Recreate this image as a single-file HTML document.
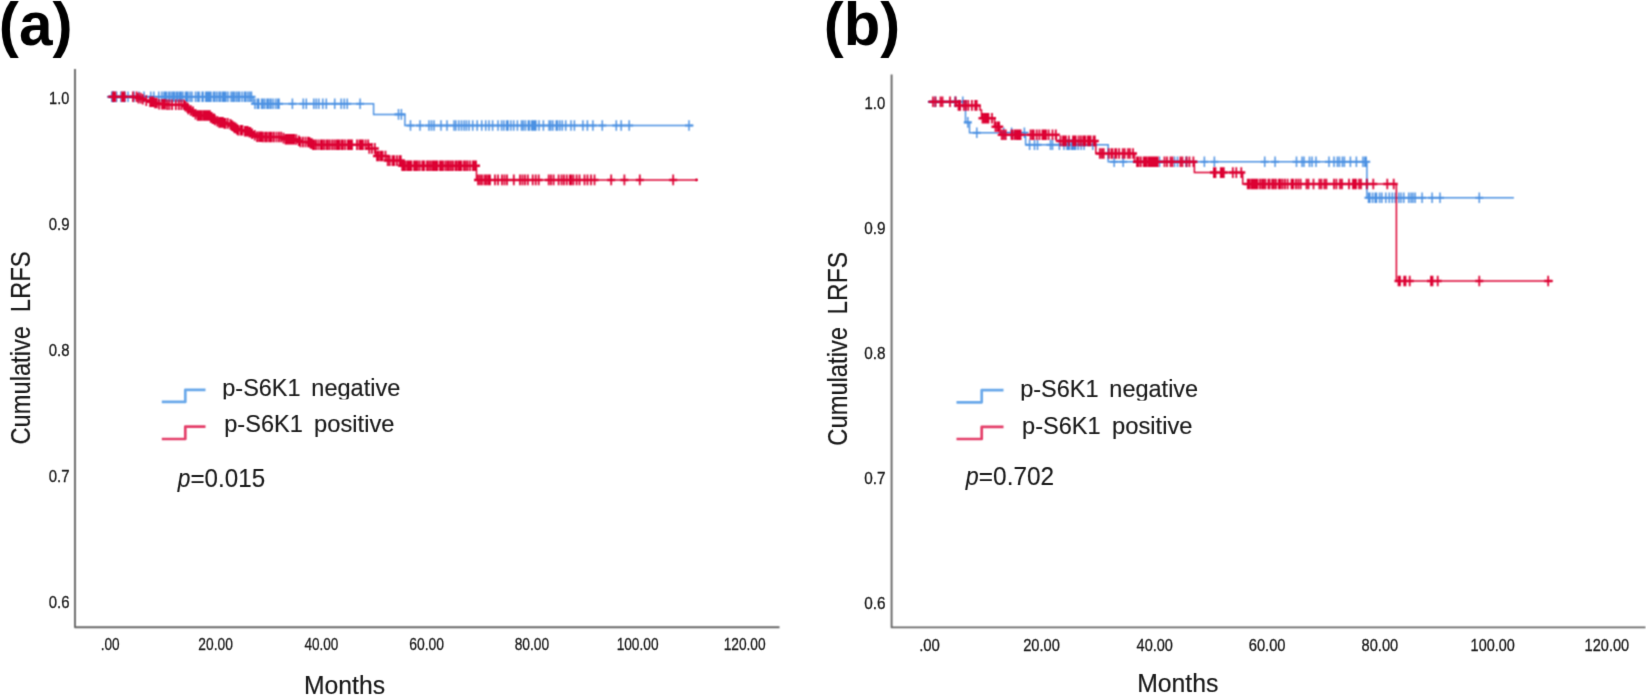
<!DOCTYPE html>
<html lang="en">
<head>
<meta charset="utf-8">
<title>Cumulative LRFS by p-S6K1 status</title>
<style>html,body{margin:0;padding:0;background:#fff;}body{width:1646px;height:695px;overflow:hidden;}svg{display:block;}</style>
</head>
<body>
<svg width="1646" height="695" viewBox="0 0 1646 695" font-family="'Liberation Sans', sans-serif">
<defs><filter id="soft" filterUnits="userSpaceOnUse" x="0" y="0" width="1646" height="695" color-interpolation-filters="sRGB"><feConvolveMatrix order="3" kernelMatrix="1 2 1 2 6 2 1 2 1" edgeMode="none" preserveAlpha="false"/></filter><filter id="blur1" filterUnits="userSpaceOnUse" x="0" y="0" width="1646" height="695" color-interpolation-filters="sRGB"><feConvolveMatrix order="3" kernelMatrix="1 2 1 2 4 2 1 2 1" edgeMode="none" preserveAlpha="false"/></filter><filter id="blur2" filterUnits="userSpaceOnUse" x="0" y="0" width="1646" height="695" color-interpolation-filters="sRGB"><feGaussianBlur stdDeviation="0.85"/></filter><filter id="soft2" filterUnits="userSpaceOnUse" x="0" y="0" width="1646" height="695" color-interpolation-filters="sRGB"><feConvolveMatrix order="3" kernelMatrix="0 1 0 1 7 1 0 1 0" edgeMode="none" preserveAlpha="false"/></filter></defs>
<rect width="1646" height="695" fill="#ffffff"/>
<g filter="url(#soft)">
<path d="M75 69V627.3H779.5" fill="none" stroke="#686868" stroke-width="1.9" stroke-linejoin="round"/>
<path d="M891.6 74.5V627.4H1645.5" fill="none" stroke="#686868" stroke-width="1.9" stroke-linejoin="round"/>
</g>
<g filter="url(#soft2)">
<text transform="translate(-1.13 45.20) scale(0.9983 1)" font-size="60.5" font-weight="bold" fill="#000">(a)</text>
<text transform="translate(823.80 44.60) scale(0.9885 1)" font-size="60.5" font-weight="bold" fill="#000">(b)</text>
<text transform="translate(49.09 104.30) scale(0.8534 1)" font-size="17" fill="#1a1a1a" stroke="#1a1a1a" stroke-width="0.3">1.0</text>
<text transform="translate(864.57 109.40) scale(0.8760 1)" font-size="17" fill="#1a1a1a" stroke="#1a1a1a" stroke-width="0.3">1.0</text>
<text transform="translate(48.73 230.15) scale(0.8790 1)" font-size="17" fill="#1a1a1a" stroke="#1a1a1a" stroke-width="0.3">0.9</text>
<text transform="translate(864.22 234.23) scale(0.9013 1)" font-size="17" fill="#1a1a1a" stroke="#1a1a1a" stroke-width="0.3">0.9</text>
<text transform="translate(48.73 356.00) scale(0.8790 1)" font-size="17" fill="#1a1a1a" stroke="#1a1a1a" stroke-width="0.3">0.8</text>
<text transform="translate(864.22 359.06) scale(0.9013 1)" font-size="17" fill="#1a1a1a" stroke="#1a1a1a" stroke-width="0.3">0.8</text>
<text transform="translate(48.73 481.85) scale(0.8790 1)" font-size="17" fill="#1a1a1a" stroke="#1a1a1a" stroke-width="0.3">0.7</text>
<text transform="translate(864.22 483.89) scale(0.9013 1)" font-size="17" fill="#1a1a1a" stroke="#1a1a1a" stroke-width="0.3">0.7</text>
<text transform="translate(48.73 607.70) scale(0.8790 1)" font-size="17" fill="#1a1a1a" stroke="#1a1a1a" stroke-width="0.3">0.6</text>
<text transform="translate(864.22 608.72) scale(0.9013 1)" font-size="17" fill="#1a1a1a" stroke="#1a1a1a" stroke-width="0.3">0.6</text>
<text transform="translate(100.74 649.60) scale(0.8093 1)" font-size="16.8" fill="#1a1a1a" stroke="#1a1a1a" stroke-width="0.3">.00</text>
<text transform="translate(198.35 649.60) scale(0.8204 1)" font-size="16.8" fill="#1a1a1a" stroke="#1a1a1a" stroke-width="0.3">20.00</text>
<text transform="translate(304.39 649.60) scale(0.8075 1)" font-size="16.8" fill="#1a1a1a" stroke="#1a1a1a" stroke-width="0.3">40.00</text>
<text transform="translate(409.25 649.60) scale(0.8277 1)" font-size="16.8" fill="#1a1a1a" stroke="#1a1a1a" stroke-width="0.3">60.00</text>
<text transform="translate(514.67 649.60) scale(0.8200 1)" font-size="16.8" fill="#1a1a1a" stroke="#1a1a1a" stroke-width="0.3">80.00</text>
<text transform="translate(616.64 649.60) scale(0.8154 1)" font-size="16.8" fill="#1a1a1a" stroke="#1a1a1a" stroke-width="0.3">100.00</text>
<text transform="translate(723.64 649.60) scale(0.8174 1)" font-size="16.8" fill="#1a1a1a" stroke="#1a1a1a" stroke-width="0.3">120.00</text>
<text transform="translate(919.13 650.50) scale(0.8926 1)" font-size="16.8" fill="#1a1a1a" stroke="#1a1a1a" stroke-width="0.3">.00</text>
<text transform="translate(1023.21 650.50) scale(0.8742 1)" font-size="16.8" fill="#1a1a1a" stroke="#1a1a1a" stroke-width="0.3">20.00</text>
<text transform="translate(1136.57 650.50) scale(0.8656 1)" font-size="16.8" fill="#1a1a1a" stroke="#1a1a1a" stroke-width="0.3">40.00</text>
<text transform="translate(1248.71 650.50) scale(0.8767 1)" font-size="16.8" fill="#1a1a1a" stroke="#1a1a1a" stroke-width="0.3">60.00</text>
<text transform="translate(1361.54 650.50) scale(0.8711 1)" font-size="16.8" fill="#1a1a1a" stroke="#1a1a1a" stroke-width="0.3">80.00</text>
<text transform="translate(1470.60 650.50) scale(0.8614 1)" font-size="16.8" fill="#1a1a1a" stroke="#1a1a1a" stroke-width="0.3">100.00</text>
<text transform="translate(1584.59 650.50) scale(0.8675 1)" font-size="16.8" fill="#1a1a1a" stroke="#1a1a1a" stroke-width="0.3">120.00</text>
<text transform="translate(303.97 693.55) scale(0.9661 1)" font-size="25.6" fill="#1a1a1a" stroke="#1a1a1a" stroke-width="0.2">Months</text>
<text transform="translate(1137.16 691.90) scale(0.9686 1)" font-size="25.6" fill="#1a1a1a" stroke="#1a1a1a" stroke-width="0.2">Months</text>
<text transform="translate(30.30 444.51) rotate(-90) scale(0.8708 1)" font-size="27.2" fill="#1a1a1a" stroke="#1a1a1a" stroke-width="0.2">Cumulative</text>
<text transform="translate(30.30 312.37) rotate(-90) scale(0.8784 1)" font-size="27.2" fill="#1a1a1a" stroke="#1a1a1a" stroke-width="0.2">LRFS</text>
<text transform="translate(846.60 445.71) rotate(-90) scale(0.8730 1)" font-size="27.2" fill="#1a1a1a" stroke="#1a1a1a" stroke-width="0.2">Cumulative</text>
<text transform="translate(846.60 314.51) rotate(-90) scale(0.8995 1)" font-size="27.2" fill="#1a1a1a" stroke="#1a1a1a" stroke-width="0.2">LRFS</text>
<text transform="translate(222.28 395.60) scale(0.9872 1)" font-size="23.8" fill="#1a1a1a" stroke="#1a1a1a" stroke-width="0.15">p-S6K1</text>
<text transform="translate(311.33 395.60) scale(0.9894 1)" font-size="23.8" fill="#1a1a1a" stroke="#1a1a1a" stroke-width="0.15">negative</text>
<text transform="translate(224.23 432.30) scale(0.9905 1)" font-size="23.8" fill="#1a1a1a" stroke="#1a1a1a" stroke-width="0.15">p-S6K1</text>
<text transform="translate(314.12 432.30) scale(0.9969 1)" font-size="23.8" fill="#1a1a1a" stroke="#1a1a1a" stroke-width="0.15">positive</text>
<text transform="translate(1020.23 396.80) scale(0.9879 1)" font-size="23.8" fill="#1a1a1a" stroke="#1a1a1a" stroke-width="0.15">p-S6K1</text>
<text transform="translate(1109.33 396.80) scale(0.9882 1)" font-size="23.8" fill="#1a1a1a" stroke="#1a1a1a" stroke-width="0.15">negative</text>
<text transform="translate(1022.03 433.80) scale(0.9905 1)" font-size="23.8" fill="#1a1a1a" stroke="#1a1a1a" stroke-width="0.15">p-S6K1</text>
<text transform="translate(1112.02 433.80) scale(0.9981 1)" font-size="23.8" fill="#1a1a1a" stroke="#1a1a1a" stroke-width="0.15">positive</text>
<text transform="translate(177.71 487.20) scale(0.8587 1)" font-size="26.5" font-style="italic" fill="#1a1a1a" stroke="#1a1a1a" stroke-width="0.15">p</text>
<text transform="translate(190.47 487.20) scale(0.9122 1)" font-size="26.5" fill="#1a1a1a" stroke="#1a1a1a" stroke-width="0.15">=0.015</text>
<text transform="translate(965.73 485.30) scale(0.8788 1)" font-size="26.5" font-style="italic" fill="#1a1a1a" stroke="#1a1a1a" stroke-width="0.15">p</text>
<text transform="translate(978.86 485.30) scale(0.9211 1)" font-size="26.5" fill="#1a1a1a" stroke="#1a1a1a" stroke-width="0.15">=0.702</text>
</g>
<rect x="220" y="399.4" width="182" height="4" fill="#fff"/>
<rect x="1018" y="400.6" width="182" height="4" fill="#fff"/>
<g filter="url(#soft)" fill="none" stroke-width="2.7" stroke-linejoin="round">
<path d="M161.8 401.9H185.3V389.8H205.5" stroke="#69a8ea"/>
<path d="M161.8 439H185.3V426.6H205.5" stroke="#e43d68"/>
<path d="M956.5 402.3H981.7V390.2H1003.5" stroke="#69a8ea"/>
<path d="M956.5 439H981.7V426.9H1003.5" stroke="#e43d68"/>
</g>
<g filter="url(#blur1)">
<path d="M107.5 96.8 L253.2 96.8 L253.2 103.7 L373.6 103.7 L373.6 114.4 L404.9 114.4 L404.9 125.5 L693.5 125.5" fill="none" stroke="#4a90e2" stroke-width="1.45" stroke-linejoin="miter"/>
<path d="M107.8 96.8h8.0M109.5 96.8h8.0M112.5 96.8h8.0M117.0 96.8h8.0M120.5 96.8h8.0M124.0 96.8h8.0M130.0 96.8h8.0M135.0 96.8h8.0M140.0 96.8h8.0M146.8 96.8h8.0M149.8 96.8h8.0M154.8 96.8h8.0M157.8 96.8h8.0M160.0 96.8h8.0M161.5 96.8h8.0M162.7 96.8h8.0M164.9 96.8h8.0M165.9 96.8h8.0M167.9 96.8h8.0M169.5 96.8h8.0M170.5 96.8h8.0M172.4 96.8h8.0M173.3 96.8h8.0M175.1 96.8h8.0M176.1 96.8h8.0M177.2 96.8h8.0M178.9 96.8h8.0M181.5 96.8h8.0M182.6 96.8h8.0M183.9 96.8h8.0M186.1 96.8h8.0M188.0 96.8h8.0M191.5 96.8h8.0M193.6 96.8h8.0M195.2 96.8h8.0M198.1 96.8h8.0M199.1 96.8h8.0M201.7 96.8h8.0M203.2 96.8h8.0M204.4 96.8h8.0M205.5 96.8h8.0M207.0 96.8h8.0M209.5 96.8h8.0M210.8 96.8h8.0M212.8 96.8h8.0M215.0 96.8h8.0M216.6 96.8h8.0M218.6 96.8h8.0M219.6 96.8h8.0M220.6 96.8h8.0M221.9 96.8h8.0M224.0 96.8h8.0M227.0 96.8h8.0M228.7 96.8h8.0M230.3 96.8h8.0M232.3 96.8h8.0M234.1 96.8h8.0M235.6 96.8h8.0M238.1 96.8h8.0M240.5 96.8h8.0M241.8 96.8h8.0M243.9 96.8h8.0M245.8 96.8h8.0M247.5 96.8h8.0M251.0 103.7h8.0M253.4 103.7h8.0M254.8 103.7h8.0M257.7 103.7h8.0M258.8 103.7h8.0M260.6 103.7h8.0M263.0 103.7h8.0M264.2 103.7h8.0M266.1 103.7h8.0M267.0 103.7h8.0M269.2 103.7h8.0M271.7 103.7h8.0M273.8 103.7h8.0M275.0 103.7h8.0M288.4 103.7h8.0M299.3 103.7h8.0M302.3 103.7h8.0M309.8 103.7h8.0M312.3 103.7h8.0M314.8 103.7h8.0M318.8 103.7h8.0M322.3 103.7h8.0M330.7 103.7h8.0M337.2 103.7h8.0M340.2 103.7h8.0M343.2 103.7h8.0M356.1 103.7h8.0M394.5 114.4h8.0M397.4 114.4h8.0M406.5 125.5h8.0M416.0 125.5h8.0M425.0 125.5h8.0M427.5 125.5h8.0M430.0 125.5h8.0M437.0 125.5h8.0M443.0 125.5h8.0M450.0 125.5h8.0M451.9 125.5h8.0M454.8 125.5h8.0M457.5 125.5h8.0M460.1 125.5h8.0M462.4 125.5h8.0M465.0 125.5h8.0M468.7 125.5h8.0M473.2 125.5h8.0M477.7 125.5h8.0M481.7 125.5h8.0M485.0 125.5h8.0M488.6 125.5h8.0M494.0 125.5h8.0M497.6 125.5h8.0M499.9 125.5h8.0M502.7 125.5h8.0M504.0 125.5h8.0M506.9 125.5h8.0M509.7 125.5h8.0M513.4 125.5h8.0M517.5 125.5h8.0M519.3 125.5h8.0M521.4 125.5h8.0M524.3 125.5h8.0M525.4 125.5h8.0M527.7 125.5h8.0M529.2 125.5h8.0M530.6 125.5h8.0M531.9 125.5h8.0M535.0 125.5h8.0M539.4 125.5h8.0M545.0 125.5h8.0M546.7 125.5h8.0M548.8 125.5h8.0M552.2 125.5h8.0M553.5 125.5h8.0M555.8 125.5h8.0M558.3 125.5h8.0M561.7 125.5h8.0M567.0 125.5h8.0M570.4 125.5h8.0M578.9 125.5h8.0M583.4 125.5h8.0M588.9 125.5h8.0M598.3 125.5h8.0M612.3 125.5h8.0M617.2 125.5h8.0M625.2 125.5h8.0M685.0 125.5h8.0" fill="none" stroke="#4a90e2" stroke-width="2.1"/>
<path d="M111.8 91.5v10.6M113.5 91.5v10.6M116.5 91.5v10.6M121.0 91.5v10.6M124.5 91.5v10.6M128.0 91.5v10.6M134.0 91.5v10.6M139.0 91.5v10.6M144.0 91.5v10.6M150.8 91.5v10.6M153.8 91.5v10.6M158.8 91.5v10.6M161.8 91.5v10.6M164.0 91.5v10.6M165.5 91.5v10.6M166.7 91.5v10.6M168.9 91.5v10.6M169.9 91.5v10.6M171.9 91.5v10.6M173.5 91.5v10.6M174.5 91.5v10.6M176.4 91.5v10.6M177.3 91.5v10.6M179.1 91.5v10.6M180.1 91.5v10.6M181.2 91.5v10.6M182.9 91.5v10.6M185.5 91.5v10.6M186.6 91.5v10.6M187.9 91.5v10.6M190.1 91.5v10.6M192.0 91.5v10.6M195.5 91.5v10.6M197.6 91.5v10.6M199.2 91.5v10.6M202.1 91.5v10.6M203.1 91.5v10.6M205.7 91.5v10.6M207.2 91.5v10.6M208.4 91.5v10.6M209.5 91.5v10.6M211.0 91.5v10.6M213.5 91.5v10.6M214.8 91.5v10.6M216.8 91.5v10.6M219.0 91.5v10.6M220.6 91.5v10.6M222.6 91.5v10.6M223.6 91.5v10.6M224.6 91.5v10.6M225.9 91.5v10.6M228.0 91.5v10.6M231.0 91.5v10.6M232.7 91.5v10.6M234.3 91.5v10.6M236.3 91.5v10.6M238.1 91.5v10.6M239.6 91.5v10.6M242.1 91.5v10.6M244.5 91.5v10.6M245.8 91.5v10.6M247.9 91.5v10.6M249.8 91.5v10.6M251.5 91.5v10.6M255.0 98.4v10.6M257.4 98.4v10.6M258.8 98.4v10.6M261.7 98.4v10.6M262.8 98.4v10.6M264.6 98.4v10.6M267.0 98.4v10.6M268.2 98.4v10.6M270.1 98.4v10.6M271.0 98.4v10.6M273.2 98.4v10.6M275.7 98.4v10.6M277.8 98.4v10.6M279.0 98.4v10.6M292.4 98.4v10.6M303.3 98.4v10.6M306.3 98.4v10.6M313.8 98.4v10.6M316.3 98.4v10.6M318.8 98.4v10.6M322.8 98.4v10.6M326.3 98.4v10.6M334.7 98.4v10.6M341.2 98.4v10.6M344.2 98.4v10.6M347.2 98.4v10.6M360.1 98.4v10.6M398.5 109.1v10.6M401.4 109.1v10.6M410.5 120.2v10.6M420.0 120.2v10.6M429.0 120.2v10.6M431.5 120.2v10.6M434.0 120.2v10.6M441.0 120.2v10.6M447.0 120.2v10.6M454.0 120.2v10.6M455.9 120.2v10.6M458.8 120.2v10.6M461.5 120.2v10.6M464.1 120.2v10.6M466.4 120.2v10.6M469.0 120.2v10.6M472.7 120.2v10.6M477.2 120.2v10.6M481.7 120.2v10.6M485.7 120.2v10.6M489.0 120.2v10.6M492.6 120.2v10.6M498.0 120.2v10.6M501.6 120.2v10.6M503.9 120.2v10.6M506.7 120.2v10.6M508.0 120.2v10.6M510.9 120.2v10.6M513.7 120.2v10.6M517.4 120.2v10.6M521.5 120.2v10.6M523.3 120.2v10.6M525.4 120.2v10.6M528.3 120.2v10.6M529.4 120.2v10.6M531.7 120.2v10.6M533.2 120.2v10.6M534.6 120.2v10.6M535.9 120.2v10.6M539.0 120.2v10.6M543.4 120.2v10.6M549.0 120.2v10.6M550.7 120.2v10.6M552.8 120.2v10.6M556.2 120.2v10.6M557.5 120.2v10.6M559.8 120.2v10.6M562.3 120.2v10.6M565.7 120.2v10.6M571.0 120.2v10.6M574.4 120.2v10.6M582.9 120.2v10.6M587.4 120.2v10.6M592.9 120.2v10.6M602.3 120.2v10.6M616.3 120.2v10.6M621.2 120.2v10.6M629.2 120.2v10.6M689.0 120.2v10.6" fill="none" stroke="#4a90e2" stroke-width="1.45"/>
</g>
<g filter="url(#blur1)">
<path d="M107.5 96.8 L133.0 96.8 L137.3 96.8 L137.3 98.1 L141.7 98.1 L141.7 99.3 L146.0 99.3 L146.0 100.6 L150.0 100.6 L150.0 101.8 L154.0 101.8 L154.0 103.0 L158.0 103.0 L158.0 104.2 L166.0 104.2 L166.0 104.8 L183.0 104.8 L184.7 104.8 L184.7 106.3 L186.3 106.3 L186.3 107.7 L188.0 107.7 L188.0 109.2 L189.8 109.2 L189.8 110.5 L191.6 110.5 L191.6 111.7 L193.4 111.7 L193.4 113.0 L195.2 113.0 L195.2 114.2 L197.0 114.2 L197.0 115.5 L210.0 115.5 L210.0 117.4 L212.2 117.4 L212.2 118.7 L214.5 118.7 L214.5 119.9 L216.8 119.9 L216.8 121.2 L219.0 121.2 L219.0 122.4 L224.0 122.4 L224.0 123.4 L229.0 123.4 L229.0 124.4 L230.8 124.4 L230.8 125.6 L232.6 125.6 L232.6 126.8 L234.4 126.8 L234.4 127.9 L236.2 127.9 L236.2 129.1 L238.0 129.1 L238.0 130.3 L243.5 130.3 L243.5 131.3 L249.0 131.3 L249.0 132.3 L251.7 132.3 L251.7 133.8 L254.3 133.8 L254.3 135.3 L257.0 135.3 L257.0 136.8 L262.0 136.8 L262.0 137.0 L279.0 137.0 L282.0 137.0 L282.0 138.2 L285.0 138.2 L285.0 139.3 L295.0 139.3 L295.0 139.5 L297.0 139.5 L297.0 140.8 L299.0 140.8 L299.0 142.0 L309.0 142.0 L309.0 142.2 L310.5 142.2 L310.5 143.5 L312.0 143.5 L312.0 144.8 L368.5 144.8 L368.5 148.4 L375.5 148.4 L375.5 156.0 L387.5 156.0 L387.5 160.6 L401.2 160.6 L401.2 165.8 L476.5 165.8 L476.5 179.9 L697.0 179.9" fill="none" stroke="#dc0032" stroke-width="1.5" stroke-linejoin="miter"/>
<path d="M108.8 96.8h8.0M110.2 96.8h8.0M111.4 96.8h8.0M118.0 96.8h8.0M119.4 96.8h8.0M120.6 96.8h8.0M129.0 96.8h8.0M132.5 96.8h8.0M134.4 98.1h8.0M136.7 98.1h8.0M138.8 99.3h8.0M142.3 100.6h8.0M146.1 101.8h8.0M147.6 101.8h8.0M149.2 101.8h8.0M151.0 103.0h8.0M152.8 103.0h8.0M155.2 104.2h8.0M158.0 104.2h8.0M159.8 104.2h8.0M161.0 104.2h8.0M163.2 104.8h8.0M165.4 104.8h8.0M168.1 104.8h8.0M171.8 104.8h8.0M174.8 104.8h8.0M177.4 104.8h8.0M180.0 104.8h8.0M181.5 106.3h8.0M183.5 107.7h8.0M184.4 109.2h8.0M186.8 110.5h8.0M189.1 111.7h8.0M191.5 114.2h8.0M193.7 115.5h8.0M195.2 115.5h8.0M196.7 115.5h8.0M197.7 115.5h8.0M199.6 115.5h8.0M200.5 115.5h8.0M201.4 115.5h8.0M202.6 115.5h8.0M203.6 115.5h8.0M205.0 115.5h8.0M205.9 115.5h8.0M206.7 117.4h8.0M207.7 117.4h8.0M208.7 118.7h8.0M210.1 118.7h8.0M210.9 119.9h8.0M213.3 121.2h8.0M215.2 122.4h8.0M216.3 122.4h8.0M217.5 122.4h8.0M218.9 122.4h8.0M220.4 123.4h8.0M221.4 123.4h8.0M223.7 123.4h8.0M226.4 124.4h8.0M228.0 125.6h8.0M229.7 126.8h8.0M230.6 127.9h8.0M231.5 127.9h8.0M232.9 129.1h8.0M234.2 130.3h8.0M236.5 130.3h8.0M237.6 130.3h8.0M238.4 130.3h8.0M240.9 131.3h8.0M242.7 131.3h8.0M243.7 131.3h8.0M245.5 132.3h8.0M246.3 132.3h8.0M248.1 133.8h8.0M250.7 135.3h8.0M253.1 136.8h8.0M255.1 136.8h8.0M256.4 136.8h8.0M257.8 136.8h8.0M258.9 137.0h8.0M261.1 137.0h8.0M262.9 137.0h8.0M265.1 137.0h8.0M266.5 137.0h8.0M267.7 137.0h8.0M269.9 137.0h8.0M272.5 137.0h8.0M274.9 137.0h8.0M277.2 137.0h8.0M279.5 138.2h8.0M281.6 139.3h8.0M282.8 139.3h8.0M284.5 139.3h8.0M286.0 139.3h8.0M286.8 139.3h8.0M287.6 139.3h8.0M288.9 139.3h8.0M290.1 139.3h8.0M292.2 139.5h8.0M294.8 140.8h8.0M296.4 142.0h8.0M298.9 142.0h8.0M301.5 142.0h8.0M304.0 142.0h8.0M305.5 142.2h8.0M306.7 143.5h8.0M307.9 143.5h8.0M309.0 144.8h8.0M310.1 144.8h8.0M312.1 144.8h8.0M314.5 144.8h8.0M316.9 144.8h8.0M318.5 144.8h8.0M320.5 144.8h8.0M322.8 144.8h8.0M323.7 144.8h8.0M325.7 144.8h8.0M328.2 144.8h8.0M330.4 144.8h8.0M332.5 144.8h8.0M334.2 144.8h8.0M335.3 144.8h8.0M337.5 144.8h8.0M338.9 144.8h8.0M341.2 144.8h8.0M343.8 144.8h8.0M345.3 144.8h8.0M346.8 144.8h8.0M348.0 144.8h8.0M353.0 144.8h8.0M355.4 144.8h8.0M356.6 144.8h8.0M357.7 144.8h8.0M358.9 144.8h8.0M361.6 144.8h8.0M364.2 144.8h8.0M365.3 148.4h8.0M367.9 148.4h8.0M370.8 148.4h8.0M373.0 156.0h8.0M374.6 156.0h8.0M376.6 156.0h8.0M377.8 156.0h8.0M378.6 156.0h8.0M381.5 156.0h8.0M383.7 160.6h8.0M385.7 160.6h8.0M388.5 160.6h8.0M390.3 160.6h8.0M392.9 160.6h8.0M395.5 160.6h8.0M396.8 160.6h8.0M398.2 165.8h8.0M399.7 165.8h8.0M401.0 165.8h8.0M403.1 165.8h8.0M404.5 165.8h8.0M406.2 165.8h8.0M407.4 165.8h8.0M410.1 165.8h8.0M411.7 165.8h8.0M413.5 165.8h8.0M415.6 165.8h8.0M418.3 165.8h8.0M420.1 165.8h8.0M422.8 165.8h8.0M424.7 165.8h8.0M426.7 165.8h8.0M428.7 165.8h8.0M429.6 165.8h8.0M431.3 165.8h8.0M432.6 165.8h8.0M433.4 165.8h8.0M436.0 165.8h8.0M437.2 165.8h8.0M439.0 165.8h8.0M441.4 165.8h8.0M443.4 165.8h8.0M444.9 165.8h8.0M446.9 165.8h8.0M448.9 165.8h8.0M451.4 165.8h8.0M452.5 165.8h8.0M454.5 165.8h8.0M455.9 165.8h8.0M457.3 165.8h8.0M459.8 165.8h8.0M461.7 165.8h8.0M463.7 165.8h8.0M466.2 165.8h8.0M468.9 165.8h8.0M470.7 165.8h8.0M472.0 165.8h8.0M474.0 179.9h8.0M476.0 179.9h8.0M478.0 179.9h8.0M480.5 179.9h8.0M482.4 179.9h8.0M484.4 179.9h8.0M486.0 179.9h8.0M491.0 179.9h8.0M494.0 179.9h8.0M498.0 179.9h8.0M500.5 179.9h8.0M503.0 179.9h8.0M509.8 179.9h8.0M516.0 179.9h8.0M518.5 179.9h8.0M521.0 179.9h8.0M523.8 179.9h8.0M528.7 179.9h8.0M531.7 179.9h8.0M534.7 179.9h8.0M544.7 179.9h8.0M547.0 179.9h8.0M549.6 179.9h8.0M554.6 179.9h8.0M557.6 179.9h8.0M560.0 179.9h8.0M562.8 179.9h8.0M565.8 179.9h8.0M567.3 179.9h8.0M569.4 179.9h8.0M572.6 179.9h8.0M575.5 179.9h8.0M580.5 179.9h8.0M583.5 179.9h8.0M587.0 179.9h8.0M590.5 179.9h8.0M607.2 179.9h8.0M620.4 179.9h8.0M635.8 179.9h8.0M669.2 179.9h8.0" fill="none" stroke="#dc0032" stroke-width="2.5"/>
<path d="M112.8 91.5v10.6M114.2 91.5v10.6M115.4 91.5v10.6M122.0 91.5v10.6M123.4 91.5v10.6M124.6 91.5v10.6M133.0 91.5v10.6M136.5 91.5v10.6M138.4 92.8v10.6M140.7 92.8v10.6M142.8 94.0v10.6M146.3 95.3v10.6M150.1 96.5v10.6M151.6 96.5v10.6M153.2 96.5v10.6M155.0 97.7v10.6M156.8 97.7v10.6M159.2 98.9v10.6M162.0 98.9v10.6M163.8 98.9v10.6M165.0 98.9v10.6M167.2 99.5v10.6M169.4 99.5v10.6M172.1 99.5v10.6M175.8 99.5v10.6M178.8 99.5v10.6M181.4 99.5v10.6M184.0 99.5v10.6M185.5 101.0v10.6M187.5 102.4v10.6M188.4 103.9v10.6M190.8 105.2v10.6M193.1 106.4v10.6M195.5 108.9v10.6M197.7 110.2v10.6M199.2 110.2v10.6M200.7 110.2v10.6M201.7 110.2v10.6M203.6 110.2v10.6M204.5 110.2v10.6M205.4 110.2v10.6M206.6 110.2v10.6M207.6 110.2v10.6M209.0 110.2v10.6M209.9 110.2v10.6M210.7 112.1v10.6M211.7 112.1v10.6M212.7 113.4v10.6M214.1 113.4v10.6M214.9 114.6v10.6M217.3 115.9v10.6M219.2 117.1v10.6M220.3 117.1v10.6M221.5 117.1v10.6M222.9 117.1v10.6M224.4 118.1v10.6M225.4 118.1v10.6M227.7 118.1v10.6M230.4 119.1v10.6M232.0 120.3v10.6M233.7 121.5v10.6M234.6 122.6v10.6M235.5 122.6v10.6M236.9 123.8v10.6M238.2 125.0v10.6M240.5 125.0v10.6M241.6 125.0v10.6M242.4 125.0v10.6M244.9 126.0v10.6M246.7 126.0v10.6M247.7 126.0v10.6M249.5 127.0v10.6M250.3 127.0v10.6M252.1 128.5v10.6M254.7 130.0v10.6M257.1 131.5v10.6M259.1 131.5v10.6M260.4 131.5v10.6M261.8 131.5v10.6M262.9 131.7v10.6M265.1 131.7v10.6M266.9 131.7v10.6M269.1 131.7v10.6M270.5 131.7v10.6M271.7 131.7v10.6M273.9 131.7v10.6M276.5 131.7v10.6M278.9 131.7v10.6M281.2 131.7v10.6M283.5 132.8v10.6M285.6 134.0v10.6M286.8 134.0v10.6M288.5 134.0v10.6M290.0 134.0v10.6M290.8 134.0v10.6M291.6 134.0v10.6M292.9 134.0v10.6M294.1 134.0v10.6M296.2 134.2v10.6M298.8 135.4v10.6M300.4 136.7v10.6M302.9 136.7v10.6M305.5 136.7v10.6M308.0 136.7v10.6M309.5 136.9v10.6M310.7 138.2v10.6M311.9 138.2v10.6M313.0 139.5v10.6M314.1 139.5v10.6M316.1 139.5v10.6M318.5 139.5v10.6M320.9 139.5v10.6M322.5 139.5v10.6M324.5 139.5v10.6M326.8 139.5v10.6M327.7 139.5v10.6M329.7 139.5v10.6M332.2 139.5v10.6M334.4 139.5v10.6M336.5 139.5v10.6M338.2 139.5v10.6M339.3 139.5v10.6M341.5 139.5v10.6M342.9 139.5v10.6M345.2 139.5v10.6M347.8 139.5v10.6M349.3 139.5v10.6M350.8 139.5v10.6M352.0 139.5v10.6M357.0 139.5v10.6M359.4 139.5v10.6M360.6 139.5v10.6M361.7 139.5v10.6M362.9 139.5v10.6M365.6 139.5v10.6M368.2 139.5v10.6M369.3 143.1v10.6M371.9 143.1v10.6M374.8 143.1v10.6M377.0 150.7v10.6M378.6 150.7v10.6M380.6 150.7v10.6M381.8 150.7v10.6M382.6 150.7v10.6M385.5 150.7v10.6M387.7 155.3v10.6M389.7 155.3v10.6M392.5 155.3v10.6M394.3 155.3v10.6M396.9 155.3v10.6M399.5 155.3v10.6M400.8 155.3v10.6M402.2 160.5v10.6M403.7 160.5v10.6M405.0 160.5v10.6M407.1 160.5v10.6M408.5 160.5v10.6M410.2 160.5v10.6M411.4 160.5v10.6M414.1 160.5v10.6M415.7 160.5v10.6M417.5 160.5v10.6M419.6 160.5v10.6M422.3 160.5v10.6M424.1 160.5v10.6M426.8 160.5v10.6M428.7 160.5v10.6M430.7 160.5v10.6M432.7 160.5v10.6M433.6 160.5v10.6M435.3 160.5v10.6M436.6 160.5v10.6M437.4 160.5v10.6M440.0 160.5v10.6M441.2 160.5v10.6M443.0 160.5v10.6M445.4 160.5v10.6M447.4 160.5v10.6M448.9 160.5v10.6M450.9 160.5v10.6M452.9 160.5v10.6M455.4 160.5v10.6M456.5 160.5v10.6M458.5 160.5v10.6M459.9 160.5v10.6M461.3 160.5v10.6M463.8 160.5v10.6M465.7 160.5v10.6M467.7 160.5v10.6M470.2 160.5v10.6M472.9 160.5v10.6M474.7 160.5v10.6M476.0 160.5v10.6M478.0 174.6v10.6M480.0 174.6v10.6M482.0 174.6v10.6M484.5 174.6v10.6M486.4 174.6v10.6M488.4 174.6v10.6M490.0 174.6v10.6M495.0 174.6v10.6M498.0 174.6v10.6M502.0 174.6v10.6M504.5 174.6v10.6M507.0 174.6v10.6M513.8 174.6v10.6M520.0 174.6v10.6M522.5 174.6v10.6M525.0 174.6v10.6M527.8 174.6v10.6M532.7 174.6v10.6M535.7 174.6v10.6M538.7 174.6v10.6M548.7 174.6v10.6M551.0 174.6v10.6M553.6 174.6v10.6M558.6 174.6v10.6M561.6 174.6v10.6M564.0 174.6v10.6M566.8 174.6v10.6M569.8 174.6v10.6M571.3 174.6v10.6M573.4 174.6v10.6M576.6 174.6v10.6M579.5 174.6v10.6M584.5 174.6v10.6M587.5 174.6v10.6M591.0 174.6v10.6M594.5 174.6v10.6M611.2 174.6v10.6M624.4 174.6v10.6M639.8 174.6v10.6M673.2 174.6v10.6" fill="none" stroke="#dc0032" stroke-width="1.75"/>
</g>
<g filter="url(#blur1)">
<path d="M928.0 101.8 L965.5 101.8 L965.5 122.4 L969.5 122.4 L969.5 132.8 L1025.6 132.8 L1025.6 144.7 L1108.2 144.7 L1108.2 161.8 L1366.9 161.8 L1366.9 197.7 L1513.9 197.7" fill="none" stroke="#4a90e2" stroke-width="1.45" stroke-linejoin="miter"/>
<path d="M930.9 101.8h8.0M951.4 101.8h8.0M958.8 101.8h8.0M963.8 122.4h8.0M972.8 132.8h8.0M999.7 132.8h8.0M1007.6 132.8h8.0M1020.4 132.8h8.0M1025.6 144.7h8.0M1030.5 144.7h8.0M1033.5 144.7h8.0M1046.5 144.7h8.0M1048.5 144.7h8.0M1055.4 144.7h8.0M1060.0 144.7h8.0M1063.0 144.7h8.0M1064.3 144.7h8.0M1065.6 144.7h8.0M1067.7 144.7h8.0M1068.9 144.7h8.0M1070.4 144.7h8.0M1071.6 144.7h8.0M1074.2 144.7h8.0M1077.1 144.7h8.0M1080.0 144.7h8.0M1088.8 144.7h8.0M1110.2 161.8h8.0M1119.2 161.8h8.0M1155.5 161.8h8.0M1170.5 161.8h8.0M1173.5 161.8h8.0M1182.4 161.8h8.0M1200.4 161.8h8.0M1210.4 161.8h8.0M1260.7 161.8h8.0M1271.1 161.8h8.0M1292.5 161.8h8.0M1298.0 161.8h8.0M1300.0 161.8h8.0M1305.5 161.8h8.0M1308.0 161.8h8.0M1312.0 161.8h8.0M1325.0 161.8h8.0M1330.0 161.8h8.0M1333.4 161.8h8.0M1335.4 161.8h8.0M1338.4 161.8h8.0M1340.4 161.8h8.0M1346.4 161.8h8.0M1352.4 161.8h8.0M1358.9 161.8h8.0M1360.9 161.8h8.0M1362.2 161.8h8.0M1364.5 197.7h8.0M1365.9 197.7h8.0M1368.6 197.7h8.0M1371.2 197.7h8.0M1372.5 197.7h8.0M1375.6 197.7h8.0M1377.8 197.7h8.0M1381.8 197.7h8.0M1385.3 197.7h8.0M1388.3 197.7h8.0M1391.2 197.7h8.0M1394.7 197.7h8.0M1397.0 197.7h8.0M1399.7 197.7h8.0M1404.7 197.7h8.0M1407.0 197.7h8.0M1409.0 197.7h8.0M1411.2 197.7h8.0M1418.1 197.7h8.0M1428.1 197.7h8.0M1436.0 197.7h8.0M1475.3 197.7h8.0" fill="none" stroke="#4a90e2" stroke-width="2.1"/>
<path d="M934.9 96.5v10.6M955.4 96.5v10.6M962.8 96.5v10.6M967.8 117.1v10.6M976.8 127.5v10.6M1003.7 127.5v10.6M1011.6 127.5v10.6M1024.4 127.5v10.6M1029.6 139.4v10.6M1034.5 139.4v10.6M1037.5 139.4v10.6M1050.5 139.4v10.6M1052.5 139.4v10.6M1059.4 139.4v10.6M1064.0 139.4v10.6M1067.0 139.4v10.6M1068.3 139.4v10.6M1069.6 139.4v10.6M1071.7 139.4v10.6M1072.9 139.4v10.6M1074.4 139.4v10.6M1075.6 139.4v10.6M1078.2 139.4v10.6M1081.1 139.4v10.6M1084.0 139.4v10.6M1092.8 139.4v10.6M1114.2 156.5v10.6M1123.2 156.5v10.6M1159.5 156.5v10.6M1174.5 156.5v10.6M1177.5 156.5v10.6M1186.4 156.5v10.6M1204.4 156.5v10.6M1214.4 156.5v10.6M1264.7 156.5v10.6M1275.1 156.5v10.6M1296.5 156.5v10.6M1302.0 156.5v10.6M1304.0 156.5v10.6M1309.5 156.5v10.6M1312.0 156.5v10.6M1316.0 156.5v10.6M1329.0 156.5v10.6M1334.0 156.5v10.6M1337.4 156.5v10.6M1339.4 156.5v10.6M1342.4 156.5v10.6M1344.4 156.5v10.6M1350.4 156.5v10.6M1356.4 156.5v10.6M1362.9 156.5v10.6M1364.9 156.5v10.6M1366.2 156.5v10.6M1368.5 192.4v10.6M1369.9 192.4v10.6M1372.6 192.4v10.6M1375.2 192.4v10.6M1376.5 192.4v10.6M1379.6 192.4v10.6M1381.8 192.4v10.6M1385.8 192.4v10.6M1389.3 192.4v10.6M1392.3 192.4v10.6M1395.2 192.4v10.6M1398.7 192.4v10.6M1401.0 192.4v10.6M1403.7 192.4v10.6M1408.7 192.4v10.6M1411.0 192.4v10.6M1413.0 192.4v10.6M1415.2 192.4v10.6M1422.1 192.4v10.6M1432.1 192.4v10.6M1440.0 192.4v10.6M1479.3 192.4v10.6" fill="none" stroke="#4a90e2" stroke-width="1.45"/>
</g>
<g filter="url(#blur1)">
<path d="M928.0 101.8 L956.0 101.8 L956.0 105.4 L980.0 105.4 L980.0 110.0 L981.5 110.0 L981.5 118.2 L994.5 118.2 L994.5 126.8 L1000.0 126.8 L1000.0 134.8 L1056.4 134.8 L1056.4 140.9 L1095.8 140.9 L1095.8 153.5 L1134.6 153.5 L1134.6 161.8 L1194.4 161.8 L1194.4 172.6 L1242.7 172.6 L1242.7 184.0 L1396.4 184.0 L1396.4 281.0 L1553.0 281.0" fill="none" stroke="#dc0032" stroke-width="1.5" stroke-linejoin="miter"/>
<path d="M929.0 101.8h8.0M931.5 101.8h8.0M936.5 101.8h8.0M938.5 101.8h8.0M946.0 101.8h8.0M951.5 101.8h8.0M954.5 105.4h8.0M956.2 105.4h8.0M959.8 105.4h8.0M961.9 105.4h8.0M964.3 105.4h8.0M967.9 105.4h8.0M971.2 105.4h8.0M972.7 105.4h8.0M978.5 118.2h8.0M980.3 118.2h8.0M981.8 118.2h8.0M983.0 118.2h8.0M984.5 118.2h8.0M988.0 118.2h8.0M991.5 126.8h8.0M993.5 126.8h8.0M995.2 126.8h8.0M997.7 134.8h8.0M999.7 134.8h8.0M1001.7 134.8h8.0M1007.6 134.8h8.0M1008.5 134.8h8.0M1010.7 134.8h8.0M1012.5 134.8h8.0M1013.5 134.8h8.0M1015.1 134.8h8.0M1016.6 134.8h8.0M1026.6 134.8h8.0M1028.6 134.8h8.0M1029.7 134.8h8.0M1032.7 134.8h8.0M1035.4 134.8h8.0M1038.4 134.8h8.0M1039.5 134.8h8.0M1041.0 134.8h8.0M1042.0 134.8h8.0M1044.6 134.8h8.0M1048.5 134.8h8.0M1051.8 134.8h8.0M1056.5 140.9h8.0M1059.0 140.9h8.0M1060.2 140.9h8.0M1062.0 140.9h8.0M1064.9 140.9h8.0M1069.0 140.9h8.0M1070.5 140.9h8.0M1071.7 140.9h8.0M1074.6 140.9h8.0M1076.8 140.9h8.0M1079.2 140.9h8.0M1080.3 140.9h8.0M1081.3 140.9h8.0M1083.8 140.9h8.0M1085.6 140.9h8.0M1086.6 140.9h8.0M1089.6 140.9h8.0M1090.8 140.9h8.0M1095.8 153.5h8.0M1097.8 153.5h8.0M1099.7 153.5h8.0M1104.7 153.5h8.0M1107.4 153.5h8.0M1108.4 153.5h8.0M1111.2 153.5h8.0M1112.3 153.5h8.0M1115.1 153.5h8.0M1118.7 153.5h8.0M1120.7 153.5h8.0M1124.0 153.5h8.0M1126.0 153.5h8.0M1129.0 153.5h8.0M1133.0 161.8h8.0M1134.6 161.8h8.0M1136.8 161.8h8.0M1139.7 161.8h8.0M1141.2 161.8h8.0M1142.4 161.8h8.0M1144.4 161.8h8.0M1145.9 161.8h8.0M1147.0 161.8h8.0M1148.3 161.8h8.0M1149.3 161.8h8.0M1150.6 161.8h8.0M1152.2 161.8h8.0M1153.8 161.8h8.0M1160.5 161.8h8.0M1163.0 161.8h8.0M1166.5 161.8h8.0M1168.5 161.8h8.0M1176.4 161.8h8.0M1178.4 161.8h8.0M1182.5 161.8h8.0M1185.4 161.8h8.0M1189.4 161.8h8.0M1209.9 172.6h8.0M1211.5 172.6h8.0M1216.8 172.6h8.0M1218.3 172.6h8.0M1219.8 172.6h8.0M1228.8 172.6h8.0M1232.3 172.6h8.0M1237.3 172.6h8.0M1243.7 184.0h8.0M1245.2 184.0h8.0M1247.2 184.0h8.0M1248.5 184.0h8.0M1250.2 184.0h8.0M1251.1 184.0h8.0M1252.6 184.0h8.0M1253.5 184.0h8.0M1256.0 184.0h8.0M1258.1 184.0h8.0M1259.5 184.0h8.0M1261.4 184.0h8.0M1264.4 184.0h8.0M1265.5 184.0h8.0M1268.2 184.0h8.0M1270.0 184.0h8.0M1272.0 184.0h8.0M1274.8 184.0h8.0M1276.5 184.0h8.0M1278.6 184.0h8.0M1281.0 184.0h8.0M1283.6 184.0h8.0M1287.5 184.0h8.0M1289.2 184.0h8.0M1291.9 184.0h8.0M1294.3 184.0h8.0M1296.6 184.0h8.0M1302.5 184.0h8.0M1304.5 184.0h8.0M1309.5 184.0h8.0M1315.4 184.0h8.0M1317.4 184.0h8.0M1320.4 184.0h8.0M1322.4 184.0h8.0M1330.0 184.0h8.0M1332.4 184.0h8.0M1336.0 184.0h8.0M1338.0 184.0h8.0M1345.0 184.0h8.0M1349.0 184.0h8.0M1350.5 184.0h8.0M1352.0 184.0h8.0M1355.0 184.0h8.0M1357.0 184.0h8.0M1362.9 184.0h8.0M1369.3 184.0h8.0M1383.3 184.0h8.0M1389.7 184.0h8.0M1394.5 281.0h8.0M1396.0 281.0h8.0M1400.2 281.0h8.0M1401.5 281.0h8.0M1405.7 281.0h8.0M1427.0 281.0h8.0M1428.5 281.0h8.0M1433.7 281.0h8.0M1475.3 281.0h8.0M1544.2 281.0h8.0" fill="none" stroke="#dc0032" stroke-width="2.5"/>
<path d="M933.0 96.5v10.6M935.5 96.5v10.6M940.5 96.5v10.6M942.5 96.5v10.6M950.0 96.5v10.6M955.5 96.5v10.6M958.5 100.1v10.6M960.2 100.1v10.6M963.8 100.1v10.6M965.9 100.1v10.6M968.3 100.1v10.6M971.9 100.1v10.6M975.2 100.1v10.6M976.7 100.1v10.6M982.5 112.9v10.6M984.3 112.9v10.6M985.8 112.9v10.6M987.0 112.9v10.6M988.5 112.9v10.6M992.0 112.9v10.6M995.5 121.5v10.6M997.5 121.5v10.6M999.2 121.5v10.6M1001.7 129.5v10.6M1003.7 129.5v10.6M1005.7 129.5v10.6M1011.6 129.5v10.6M1012.5 129.5v10.6M1014.7 129.5v10.6M1016.5 129.5v10.6M1017.5 129.5v10.6M1019.1 129.5v10.6M1020.6 129.5v10.6M1030.6 129.5v10.6M1032.6 129.5v10.6M1033.7 129.5v10.6M1036.7 129.5v10.6M1039.4 129.5v10.6M1042.4 129.5v10.6M1043.5 129.5v10.6M1045.0 129.5v10.6M1046.0 129.5v10.6M1048.6 129.5v10.6M1052.5 129.5v10.6M1055.8 129.5v10.6M1060.5 135.6v10.6M1063.0 135.6v10.6M1064.2 135.6v10.6M1066.0 135.6v10.6M1068.9 135.6v10.6M1073.0 135.6v10.6M1074.5 135.6v10.6M1075.7 135.6v10.6M1078.6 135.6v10.6M1080.8 135.6v10.6M1083.2 135.6v10.6M1084.3 135.6v10.6M1085.3 135.6v10.6M1087.8 135.6v10.6M1089.6 135.6v10.6M1090.6 135.6v10.6M1093.6 135.6v10.6M1094.8 135.6v10.6M1099.8 148.2v10.6M1101.8 148.2v10.6M1103.7 148.2v10.6M1108.7 148.2v10.6M1111.4 148.2v10.6M1112.4 148.2v10.6M1115.2 148.2v10.6M1116.3 148.2v10.6M1119.1 148.2v10.6M1122.7 148.2v10.6M1124.7 148.2v10.6M1128.0 148.2v10.6M1130.0 148.2v10.6M1133.0 148.2v10.6M1137.0 156.5v10.6M1138.6 156.5v10.6M1140.8 156.5v10.6M1143.7 156.5v10.6M1145.2 156.5v10.6M1146.4 156.5v10.6M1148.4 156.5v10.6M1149.9 156.5v10.6M1151.0 156.5v10.6M1152.3 156.5v10.6M1153.3 156.5v10.6M1154.6 156.5v10.6M1156.2 156.5v10.6M1157.8 156.5v10.6M1164.5 156.5v10.6M1167.0 156.5v10.6M1170.5 156.5v10.6M1172.5 156.5v10.6M1180.4 156.5v10.6M1182.4 156.5v10.6M1186.5 156.5v10.6M1189.4 156.5v10.6M1193.4 156.5v10.6M1213.9 167.3v10.6M1215.5 167.3v10.6M1220.8 167.3v10.6M1222.3 167.3v10.6M1223.8 167.3v10.6M1232.8 167.3v10.6M1236.3 167.3v10.6M1241.3 167.3v10.6M1247.7 178.7v10.6M1249.2 178.7v10.6M1251.2 178.7v10.6M1252.5 178.7v10.6M1254.2 178.7v10.6M1255.1 178.7v10.6M1256.6 178.7v10.6M1257.5 178.7v10.6M1260.0 178.7v10.6M1262.1 178.7v10.6M1263.5 178.7v10.6M1265.4 178.7v10.6M1268.4 178.7v10.6M1269.5 178.7v10.6M1272.2 178.7v10.6M1274.0 178.7v10.6M1276.0 178.7v10.6M1278.8 178.7v10.6M1280.5 178.7v10.6M1282.6 178.7v10.6M1285.0 178.7v10.6M1287.6 178.7v10.6M1291.5 178.7v10.6M1293.2 178.7v10.6M1295.9 178.7v10.6M1298.3 178.7v10.6M1300.6 178.7v10.6M1306.5 178.7v10.6M1308.5 178.7v10.6M1313.5 178.7v10.6M1319.4 178.7v10.6M1321.4 178.7v10.6M1324.4 178.7v10.6M1326.4 178.7v10.6M1334.0 178.7v10.6M1336.4 178.7v10.6M1340.0 178.7v10.6M1342.0 178.7v10.6M1349.0 178.7v10.6M1353.0 178.7v10.6M1354.5 178.7v10.6M1356.0 178.7v10.6M1359.0 178.7v10.6M1361.0 178.7v10.6M1366.9 178.7v10.6M1373.3 178.7v10.6M1387.3 178.7v10.6M1393.7 178.7v10.6M1398.5 275.7v10.6M1400.0 275.7v10.6M1404.2 275.7v10.6M1405.5 275.7v10.6M1409.7 275.7v10.6M1431.0 275.7v10.6M1432.5 275.7v10.6M1437.7 275.7v10.6M1479.3 275.7v10.6M1548.2 275.7v10.6" fill="none" stroke="#dc0032" stroke-width="1.75"/>
</g>
<g filter="url(#soft)"><circle cx="696.6" cy="179.9" r="1.3" fill="#dc0032"/></g>
</svg>
</body>
</html>
